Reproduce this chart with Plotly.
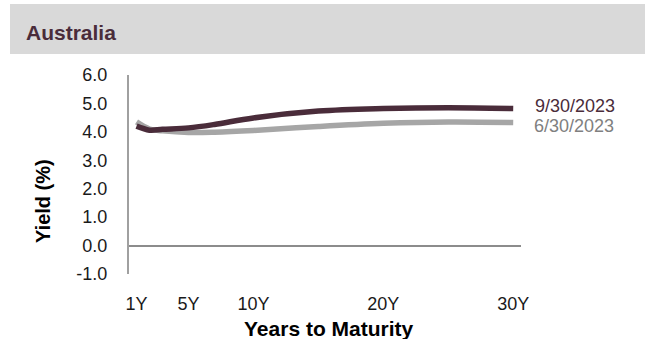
import plotly.graph_objects as go

# years to maturity and yields
maturity = [1, 2, 3, 5, 7, 10, 15, 20, 25, 30]
yield_sep = [4.20, 4.06, 4.09, 4.14, 4.26, 4.49, 4.73, 4.82, 4.85, 4.82]
yield_jun = [4.35, 4.10, 4.04, 3.98, 3.99, 4.05, 4.19, 4.30, 4.35, 4.33]

x_ticks = [1, 5, 10, 20, 30]
x_labels = ['1Y', '5Y', '10Y', '20Y', '30Y']
y_ticks = [-1, 0, 1, 2, 3, 4, 5, 6]
y_labels = [f'{v:.1f}' for v in y_ticks]

DARK = '#4a2c3a'
GREY = '#a6a6a6'
FONT = 'Arial, Liberation Sans, sans-serif'

W, H = 645, 339
L, R, T, B = 129, 124, 75, 65
pw, ph = W - L - R, H - T - B


def px(x):
    return (x - L) / pw


def py(y):
    return (H - B - y) / ph


fig = go.Figure()
fig.add_trace(go.Scatter(
    x=maturity, y=yield_jun, mode='lines', name='6/30/2023',
    line=dict(color=GREY, width=5.5, shape='spline', smoothing=1),
    cliponaxis=False
))
fig.add_trace(go.Scatter(
    x=maturity, y=yield_sep, mode='lines', name='9/30/2023',
    line=dict(color=DARK, width=5.5, shape='spline', smoothing=1),
    cliponaxis=False
))

fig.update_layout(
    width=W, height=H,
    margin=dict(l=L, r=R, t=T, b=B),
    paper_bgcolor='white', plot_bgcolor='white',
    showlegend=False,
    font=dict(family=FONT, size=18, color='#1a1a1a'),
    xaxis=dict(
        range=[0.42, 30.6], tickvals=x_ticks, ticktext=x_labels,
        showgrid=False, zeroline=False, showline=False, ticks='',
        ticklabelstandoff=17,
    ),
    yaxis=dict(
        range=[-1, 6], tickvals=y_ticks, ticktext=y_labels,
        showgrid=False, zeroline=True, zerolinecolor='#8c8c8c', zerolinewidth=2,
        showline=True, linecolor='#a0a0a0', linewidth=2, ticks='',
        ticklabelstandoff=16,
    ),
    shapes=[dict(
        type='rect', xref='paper', yref='paper', layer='below',
        x0=px(10), x1=px(645), y0=py(54), y1=py(4),
        fillcolor='#d9d9d9', line=dict(width=0)
    )],
    annotations=[
        dict(text='<b>Australia</b>', xref='paper', yref='paper',
             x=px(24), y=py(32), xanchor='left', yanchor='middle',
             showarrow=False, font=dict(size=21, color=DARK)),
        dict(text='<b>Yield (%)</b>', xref='paper', yref='paper',
             x=px(43), y=py(201), xanchor='center', yanchor='middle',
             textangle=-90, showarrow=False,
             font=dict(size=20, color='#000000')),
        dict(text='<b>Years to Maturity</b>', xref='paper', yref='paper',
             x=px(329), y=py(328), xanchor='center', yanchor='middle',
             showarrow=False, font=dict(size=21, color='#000000')),
        dict(text='9/30/2023', xref='paper', yref='y', x=1, y=yield_sep[-1],
             xanchor='left', yanchor='middle', xshift=12, yshift=3,
             showarrow=False, font=dict(size=18, color=DARK)),
        dict(text='6/30/2023', xref='paper', yref='y', x=1, y=yield_jun[-1],
             xanchor='left', yanchor='middle', xshift=11, yshift=-4,
             showarrow=False, font=dict(size=18, color='#808080')),
    ],
)

fig.write_html('out.html', config={'displayModeBar': False},
               post_script="document.body.style.margin='0';document.body.style.overflow='hidden';")
